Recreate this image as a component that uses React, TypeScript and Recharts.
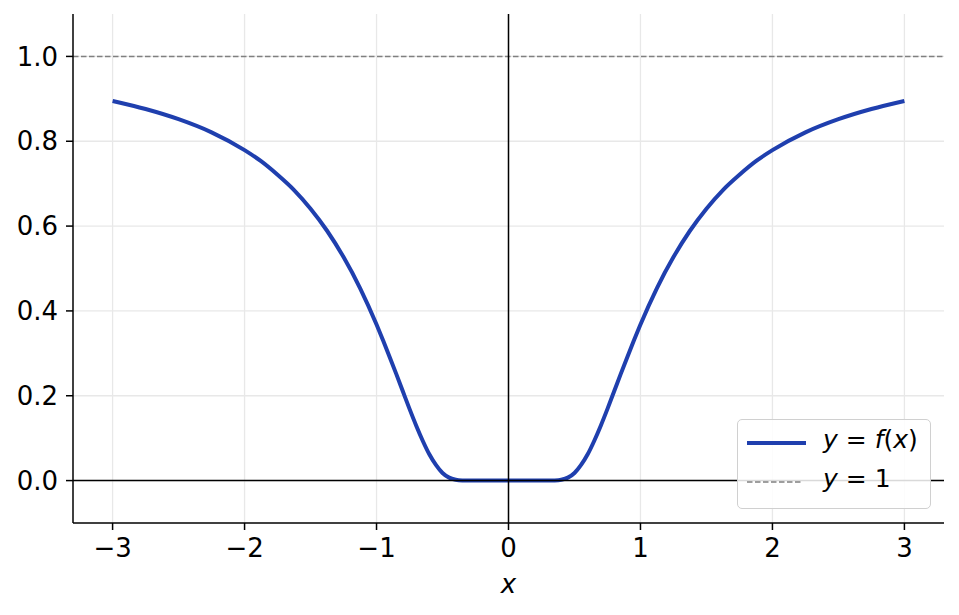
import * as React from "react"
import { LineChart, Line, XAxis, YAxis, ReferenceLine, Label } from "recharts"

const xValues = [
  -3, -2.75, -2.5, -2.25, -2, -1.875, -1.75, -1.625, -1.5, -1.375, -1.25, -1.125, -1,
  -0.95, -0.9, -0.85, -0.8, -0.75, -0.7, -0.65, -0.6, -0.55, -0.5, -0.45, -0.4, -0.35,
  -0.3, -0.2, -0.1, 0, 0.1, 0.2, 0.3, 0.35, 0.4, 0.45, 0.5, 0.55, 0.6, 0.65, 0.7, 0.75,
  0.8, 0.85, 0.9, 0.95, 1, 1.125, 1.25, 1.375, 1.5, 1.625, 1.75, 1.875, 2, 2.25, 2.5, 2.75, 3,
]

const yValues = [
  0.895, 0.876, 0.852, 0.821, 0.779, 0.753, 0.721, 0.685, 0.641, 0.589, 0.527, 0.454, 0.368,
  0.33, 0.291, 0.251, 0.21, 0.169, 0.13, 0.094, 0.062, 0.037, 0.018, 0.007, 0.002, 0.0003,
  0, 0, 0, 0, 0, 0, 0, 0.0003, 0.002, 0.007, 0.018, 0.037, 0.062, 0.094, 0.13, 0.169,
  0.21, 0.251, 0.291, 0.33, 0.368, 0.454, 0.527, 0.589, 0.641, 0.685, 0.721, 0.753, 0.779, 0.821, 0.852, 0.876, 0.895,
]

const xTicks = [-3, -2, -1, 0, 1, 2, 3]
const yTicks = [0, 0.2, 0.4, 0.6, 0.8, 1.0]

const FONT = "'DejaVu Sans', sans-serif"
const BLUE = "#1f3fae"
const GRID = "#e8e8e8"

const data = xValues.map((x, i) => ({ x, y: yValues[i] }))

const fmtX = (v: number) => (v < 0 ? `\u2212${Math.abs(v)}` : `${v}`)

const Legend = () => (
  <div
    style={{
      position: "absolute",
      left: 737,
      top: 419,
      width: 192,
      height: 88,
      border: "1.5px solid #d0d0d0",
      borderRadius: 5,
      background: "rgba(255,255,255,0.85)",
      fontFamily: FONT,
      fontSize: 25,
      color: "#000",
    }}>
    <svg width={70} height={88} style={{ position: "absolute", left: 0, top: 0 }}>
      <line x1={9} x2={68} y1={23} y2={23} stroke={BLUE} strokeWidth={4} />
      <line x1={9} x2={64} y1={62} y2={62} stroke="#808080" strokeWidth={1.5} strokeDasharray="5.5 2.5" />
    </svg>
    <div style={{ position: "absolute", left: 85, top: 5, whiteSpace: "nowrap" }}>
      <i>y</i> = <i>f</i>(<i>x</i>)
    </div>
    <div style={{ position: "absolute", left: 85, top: 44, whiteSpace: "nowrap" }}>
      <i>y</i> = 1
    </div>
  </div>
)

export default function App() {
  return (
    <div style={{ position: "absolute", left: 0, top: 0, width: 959, height: 615, background: "#fff" }}>
      <LineChart
        width={959}
        height={615}
        data={data}
        margin={{ top: 14, right: 15, left: 0, bottom: 18 }}>
        <XAxis
          type="number"
          dataKey="x"
          domain={[-3.3, 3.3]}
          ticks={xTicks}
          tickFormatter={fmtX}
          allowDataOverflow
          height={74}
          tickSize={7}
          tickMargin={9}
          axisLine={{ stroke: "#000", strokeWidth: 1.5 }}
          tickLine={{ stroke: "#000", strokeWidth: 1.5 }}
          tick={{ fill: "#000", fontSize: 26, fontFamily: FONT }}>
          <Label
            value="x"
            position="insideBottom"
            offset={4}
            style={{ fontStyle: "italic", fontSize: 26, fontFamily: FONT, fill: "#000" }}
          />
        </XAxis>
        <YAxis
          type="number"
          domain={[-0.1, 1.1]}
          ticks={yTicks}
          tickFormatter={(v: number) => v.toFixed(1)}
          allowDataOverflow
          width={73}
          tickSize={7}
          tickMargin={8}
          axisLine={{ stroke: "#000", strokeWidth: 1.5 }}
          tickLine={{ stroke: "#000", strokeWidth: 1.5 }}
          tick={{ fill: "#000", fontSize: 26, fontFamily: FONT }}
        />
        {xTicks.map((t) => (
          <ReferenceLine key={`gx${t}`} x={t} stroke={GRID} strokeWidth={1.3} />
        ))}
        {yTicks.map((t) => (
          <ReferenceLine key={`gy${t}`} y={t} stroke={GRID} strokeWidth={1.3} />
        ))}
        <ReferenceLine y={1} stroke="#808080" strokeWidth={1.5} strokeDasharray="5.5 2.5" />
        <Line
          type="monotone"
          dataKey="y"
          stroke={BLUE}
          strokeWidth={4}
          dot={false}
          activeDot={false}
          isAnimationActive={false}
        />
        <ReferenceLine y={0} stroke="#000" strokeWidth={1.5} />
        <ReferenceLine x={0} stroke="#000" strokeWidth={1.5} />
      </LineChart>
      <Legend />
    </div>
  )
}
